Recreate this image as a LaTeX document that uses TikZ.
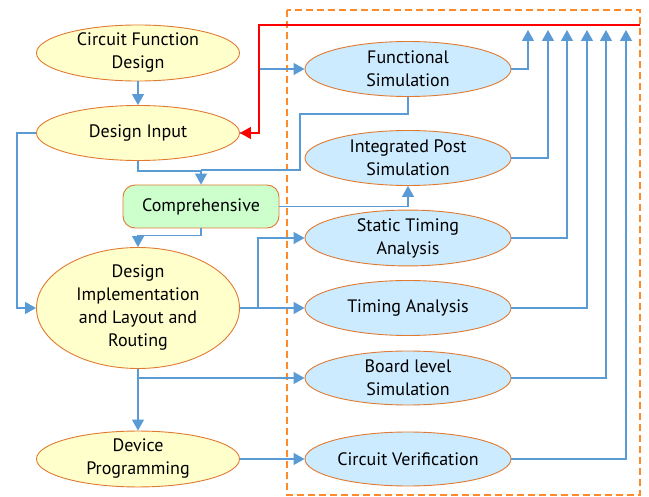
\documentclass[tikz,border=0pt]{standalone}
\usepackage{fontspec}
\setmainfont{PT Sans}
\usetikzlibrary{shapes.geometric,arrows.meta}
\definecolor{bl}{HTML}{5B9BD5}
\definecolor{edgeor}{HTML}{E07A32}
\definecolor{yelf}{HTML}{FFFFCC}
\definecolor{bluf}{HTML}{CCEBFF}
\definecolor{grnf}{HTML}{CCFFCC}
\definecolor{dashor}{HTML}{FF8A2A}
\begin{document}
\begin{tikzpicture}[x=1pt,y=-1pt,
 lnode/.style={ellipse,draw=edgeor,line width=0.9pt,fill=yelf,minimum width=203pt,minimum height=52pt,inner sep=0pt,align=center,font=\fontsize{18}{23}\selectfont},
 rnode/.style={lnode,fill=bluf,minimum width=206pt},
 conn/.style={draw=bl,line width=1.2pt},
 arr/.style={conn,-{Triangle[width=12pt,length=11pt]}}]
\useasboundingbox (0,0) rectangle (649,497);
\draw[dashor,line width=1.1pt,dash pattern=on 7pt off 4pt] (287,10) rectangle (640,495);
% nodes
\node[lnode] (cfd) at (138,53) {Circuit Function\\Design};
\node[lnode,minimum height=55pt] (di) at (138,133) {Design Input};
\node[draw=edgeor,line width=0.9pt,fill=grnf,rounded corners=12pt,minimum width=156pt,minimum height=43pt,inner sep=0pt,font=\fontsize{18}{23}\selectfont] (comp) at (201,206.5) {Comprehensive};
\node[lnode,minimum height=113pt] (dil) at (138,308) {Design\\Implementation\\and Layout and\\Routing};
\node[lnode] (dp) at (138,459) {Device\\Programming};
\node[rnode,minimum height=55pt] (fs) at (408,69) {Functional\\Simulation};
\node[rnode,minimum height=55pt] (ips) at (408,158) {Integrated Post\\Simulation};
\node[rnode,minimum height=54pt] (sta) at (408,238) {Static Timing\\Analysis};
\node[rnode,minimum height=55pt] (ta) at (408,308) {Timing Analysis};
\node[rnode,minimum height=54pt] (bls) at (408,378) {Board level\\Simulation};
\node[rnode,minimum height=54pt] (cv) at (408,459) {Circuit Verification};
% tips
\coordinate (t1) at (528,30);
\coordinate (t2) at (548,30);
\coordinate (t3) at (567,30);
\coordinate (t4) at (587,30);
\coordinate (t5) at (606,30);
\coordinate (t6) at (626,30);
\coordinate (rs) at (640,25);
% connectors
\draw[arr] (cfd.south) -- (di.north);
\draw[arr] (di.east) -- ++(19,0) |- (fs.west);
\draw[arr] (di.south) -- ++(0,10) -| (comp.north);
\draw[conn] (fs.south) -- ++(0,17) -| (300,170) -- (201,170);
\draw[arr] (comp.east) -| (ips.south);
\draw[arr] (comp.south) -- ++(0,7) -| (dil.north);
\draw[arr] (di.west) -- ++(-19,0) |- (dil.west);
\draw[arr] (dil.east) -- (ta.west);
\draw[arr] (dil.east) -- ++(18,0) |- (sta.west);
\draw[arr] (dil.south) -- (dp.north);
\draw[arr] (dil.south) |- (bls.west);
\draw[arr] (dp.east) -- (cv.west);
\draw[arr] (fs.east) -| (t1);
\draw[arr] (ips.east) -| (t2);
\draw[arr] (sta.east) -| (t3);
\draw[arr] (ta.east) -| (t4);
\draw[arr] (bls.east) -| (t5);
\draw[arr] (cv.east) -| (t6);
\draw[red,line width=1.3pt,-{Triangle[width=12pt,length=11pt]}] (rs) -- (259,25) |- (di.east);
\end{tikzpicture}
\end{document}
